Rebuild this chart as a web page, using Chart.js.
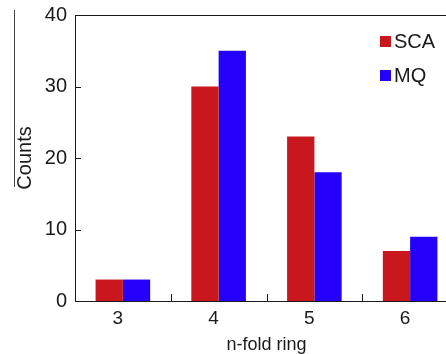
<!DOCTYPE html>
<html>
<head>
<meta charset="utf-8">
<script src="https://cdn.jsdelivr.net/npm/chart.js@4/dist/chart.umd.min.js"></script>
<style>
  html, body { margin: 0; padding: 0; background: #fff; overflow: hidden; }
  #wrap { width: 458px; height: 354px; }
</style>
</head>
<body>
<div id="wrap"><canvas id="ringChart" width="458" height="354"></canvas></div>
<script>
const categories = ["3", "4", "5", "6"];
const scaCounts = [3, 30, 23, 7];
const mqCounts = [3, 35, 18, 9];
const yTicks = [0, 10, 20, 30, 40];

const FONT = "'Liberation Sans', Arial, sans-serif";
const INK = "#1a1a1a";

// legend drawn inside the plot, top right, stacked vertically
const insideLegend = {
  id: "insideLegend",
  afterDraw(chart) {
    const ctx = chart.ctx;
    ctx.save();
    ctx.font = "20px " + FONT;
    ctx.textBaseline = "middle";
    chart.data.datasets.forEach((ds, i) => {
      const y = 41 + i * 34;
      ctx.fillStyle = ds.backgroundColor;
      ctx.fillRect(380, y - 5, 11, 11);
      ctx.fillStyle = INK;
      ctx.fillText(ds.label, 394, y + 1);
    });
    ctx.restore();
  },
};

// top frame line and tick marks pointing into the plot
const innerTicks = {
  id: "innerTicks",
  afterDraw(chart) {
    const { ctx, chartArea, scales } = chart;
    ctx.save();
    ctx.strokeStyle = INK;
    ctx.lineWidth = 1;
    ctx.beginPath();
    const top = Math.round(chartArea.top) + 0.5;
    ctx.moveTo(chartArea.left, top);
    ctx.lineTo(chartArea.right, top);
    yTicks.forEach((v) => {
      const y = Math.round(scales.y.getPixelForValue(v)) + 0.5;
      ctx.moveTo(chartArea.left, y);
      ctx.lineTo(chartArea.left + 6, y);
    });
    for (let i = 0; i < categories.length - 1; i++) {
      const x = Math.round((scales.x.getPixelForTick(i) + scales.x.getPixelForTick(i + 1)) / 2) + 0.5;
      ctx.moveTo(x, chartArea.bottom);
      ctx.lineTo(x, chartArea.bottom - 7);
    }
    ctx.stroke();
    ctx.restore();
  },
};

// the thin rule left of the y title in the source figure
const sideRule = {
  id: "sideRule",
  afterDraw(chart) {
    const ctx = chart.ctx;
    ctx.save();
    ctx.strokeStyle = "#444";
    ctx.lineWidth = 1;
    ctx.beginPath();
    ctx.moveTo(14.5, 10);
    ctx.lineTo(14.5, 187);
    ctx.stroke();
    ctx.restore();
  },
};

new Chart(document.getElementById("ringChart"), {
  type: "bar",
  data: {
    labels: categories,
    datasets: [
      {
        label: "SCA",
        data: scaCounts,
        backgroundColor: "#c8181e",
        borderWidth: 0,
        barPercentage: 1,
        categoryPercentage: 0.57,
      },
      {
        label: "MQ",
        data: mqCounts,
        backgroundColor: "#2400fa",
        borderWidth: 0,
        barPercentage: 1,
        categoryPercentage: 0.57,
      },
    ],
  },
  options: {
    responsive: false,
    animation: false,
    layout: { padding: { top: 15, right: 0, left: 0, bottom: 0 } },
    plugins: {
      legend: { display: false },
      tooltip: { enabled: false },
    },
    scales: {
      x: {
        position: "bottom",
        offset: true,
        grid: { display: false, drawTicks: false },
        border: { display: true, color: INK, width: 1 },
        ticks: {
          color: INK,
          font: { family: FONT, size: 19 },
          padding: 6,
          labelOffset: -5,
        },
        title: {
          display: true,
          text: "n-fold ring",
          color: INK,
          font: { family: FONT, size: 18, lineHeight: 1 },
          padding: { top: 0, bottom: 0 },
        },
        afterFit: (scale) => {
          scale.height = 53;
          scale.paddingLeft = 0;
          scale.paddingRight = 0;
        },
      },
      y: {
        min: 0,
        max: 40,
        afterBuildTicks: (scale) => {
          scale.ticks = yTicks.map((v) => ({ value: v }));
        },
        grid: { display: false, drawTicks: false },
        border: { display: true, color: INK, width: 1 },
        ticks: {
          color: INK,
          font: { family: FONT, size: 20 },
          padding: 8,
        },
        title: {
          display: true,
          text: "Counts",
          color: INK,
          font: { family: FONT, size: 20 },
          padding: { top: 13, bottom: 0 },
        },
        afterFit: (scale) => {
          scale.width = 75;
          scale.paddingTop = 0;
          scale.paddingBottom = 0;
        },
      },
    },
  },
  plugins: [insideLegend, innerTicks, sideRule],
});
</script>
</body>
</html>
